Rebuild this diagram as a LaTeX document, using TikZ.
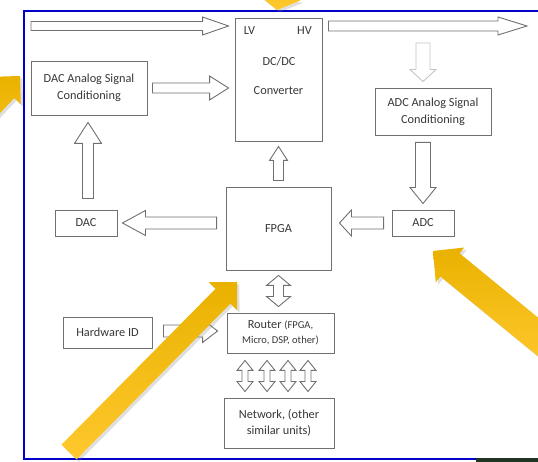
\documentclass[tikz,border=0pt]{standalone}
\usepackage{fontspec}
\setmainfont{Carlito}
\usetikzlibrary{calc}
\usetikzlibrary{shadows}
\usetikzlibrary{positioning}
\definecolor{frameblue}{RGB}{0,0,200}
\definecolor{boxgray}{RGB}{112,112,112}
\definecolor{textgray}{RGB}{55,55,55}
\definecolor{ghostgray}{RGB}{196,196,196}
\definecolor{ydark}{RGB}{233,178,0}
\definecolor{ylight}{RGB}{255,200,45}
\definecolor{stripgreen}{RGB}{32,52,38}
\newcommand{\smalltxt}{\fontsize{10.5}{15}\selectfont}

\begin{document}
\begin{tikzpicture}[x=1pt,y=1pt]

		\tikzset{box/.style={draw=boxgray,line width=0.9pt,text=textgray,align=center,inner sep=0pt,font=\fontsize{12.3}{17}\selectfont}}
		\tikzset{txt/.style={text=textgray,inner sep=0pt,font=\fontsize{12.3}{15}\selectfont}}
		\tikzset{frame/.style={draw=frameblue,line width=2.6pt}}
		\tikzset{hollow/.style={draw=boxgray,line width=0.9pt,fill=white,line join=miter}}
		\tikzset{ghost/.style={hollow,draw=ghostgray}}
		\tikzset{yarrow/.style={draw=none,top color=ydark,bottom color=ylight,drop shadow={opacity=0.25}}}

		% Block arrow: shaft width/head width/head length
		\tikzset{fat/.style args={#1/#2/#3}{to path={
						let \p1=(\tikztostart), \p2=(\tikztotarget),
						\n1={atan2(\y2-\y1,\x2-\x1)}, \n2={veclen(\x2-\x1,\y2-\y1)} in
						($(\p1)+(\n1+90:#1/2)$) -- ($(\p1)+(\n1:\n2-#3)+(\n1+90:#1/2)$)
						-- ($(\p1)+(\n1:\n2-#3)+(\n1+90:#2/2)$) -- (\p2)
						-- ($(\p1)+(\n1:\n2-#3)+(\n1-90:#2/2)$) -- ($(\p1)+(\n1:\n2-#3)+(\n1-90:#1/2)$)
						-- ($(\p1)+(\n1-90:#1/2)$) -- cycle}}}

		% Same, with a head at both ends
		\tikzset{dfat/.style args={#1/#2/#3}{to path={
						let \p1=(\tikztostart), \p2=(\tikztotarget),
						\n1={atan2(\y2-\y1,\x2-\x1)}, \n2={veclen(\x2-\x1,\y2-\y1)} in
						(\p1) -- ($(\p1)+(\n1:#3)+(\n1+90:#2/2)$) -- ($(\p1)+(\n1:#3)+(\n1+90:#1/2)$)
						-- ($(\p1)+(\n1:\n2-#3)+(\n1+90:#1/2)$) -- ($(\p1)+(\n1:\n2-#3)+(\n1+90:#2/2)$)
						-- (\p2)
						-- ($(\p1)+(\n1:\n2-#3)+(\n1-90:#2/2)$) -- ($(\p1)+(\n1:\n2-#3)+(\n1-90:#1/2)$)
						-- ($(\p1)+(\n1:#3)+(\n1-90:#1/2)$) -- ($(\p1)+(\n1:#3)+(\n1-90:#2/2)$) -- cycle}}}

		\useasboundingbox (0,0) rectangle (538,462);
		\clip (0,0) rectangle (538,462);

		\draw[frame] (540,451) -- (24,451) -- (24,3) -- (476,3);
		\fill[stripgreen] (476,0) rectangle (540,3.5);

		\node[box,minimum width=87,minimum height=123] (conv) at (278.5,382.5) {};
		\node[box,minimum width=116,minimum height=54] (dacc) at (89,374) {DAC Analog Signal\\Conditioning};
		\node[box,minimum width=116,minimum height=47] (adcc) at (433,350.5) {ADC Analog Signal\\Conditioning};
		\node[box,minimum width=62,minimum height=26] (dac) at (86,239) {DAC};
		\node[box,minimum width=105,minimum height=83] (fpga) at (278.5,233.5) {FPGA};
		\node[box,minimum width=62,minimum height=26] (adc) at (423,239) {ADC};
		\node[box,minimum width=89,minimum height=31] (hwid) at (107.5,129.5) {Hardware ID};
		\node[box,minimum width=107,minimum height=40] (router) at (280.5,129) {Router {\smalltxt(FPGA,}\\[-2pt]{\smalltxt Micro, DSP, other)}};
		\node[box,minimum width=110,minimum height=50] (net) at (279,39) {Network, (other\\[-1pt]similar units)};

		\node[txt] (lv) at ($(conv.north west)+(15,-13)$) {LV};
		\node[txt] (hv) at ($(conv.north east)+(-18,-13)$) {HV};
		\node[txt] (dcdc) at ($(conv.north)+(0.5,-44)$) {DC/DC};
		\node[txt] (cvt) at ($(conv.north)+(0,-73)$) {Converter};

		\coordinate (lvin) at (31,436);
		\coordinate (hvout) at (527,436);
		\coordinate (adin) at (423,419);

		\draw[hollow,fat=9/18/26] (lvin) to ($(conv.west|-lvin)+(-6,0)$);
		\draw[hollow,fat=10/18/29] ($(conv.east|-hvout)+(6,0)$) to (hvout);
		\draw[hollow,fat=10/24/19] ($(dacc.east)+(5,0)$) to ($(conv.west|-dacc.east)+(-6,0)$);
		\draw[hollow,fat=11/27/21] ($(dac.north)+(2,11)$) to ($(dacc.south)+(-1,-7)$);
		\draw[hollow,fat=12/25/23] ($(fpga.west|-dac.east)+(-9,0)$) to ($(dac.east)+(5,0)$);
		\draw[hollow,fat=10/18/14] ($(fpga.north)+(0,6)$) to ($(conv.south)+(0,-5)$);
		\draw[ghost,fat=14/26/12] (adin) to ($(adcc.north)+(-10,6)$);
		\draw[hollow,fat=15/26/16] ($(adcc.south)+(-10,-7)$) to ($(adc.north)+(0,6)$);
		\draw[hollow,fat=12/26/12] ($(adc.west)+(-8,0)$) to ($(fpga.east|-adc.west)+(8,0)$);
		\draw[hollow,fat=12/23/15] ($(hwid.east)+(11,1.5)$) to ($(router.west|-hwid.east)+(-9,1.5)$);
		\draw[hollow,dfat=10/24/10] ($(fpga.south)+(0,-5)$) to ($(router.north)+(-2,6)$);
		\foreach \dx in {-35.5,-13.5,7.5,27.5}
			\draw[hollow,dfat=6/16/10] ($(router.south)+(\dx,-7)$) to ($(router.south|-net.north)+(\dx,6)$);

		% callout arrows
		\coordinate (ytailA) at (69,10);
		\coordinate (ytipA) at (237,180);
		\coordinate (ytailB) at (560,107);
		\coordinate (ytipB) at (433,211);
		\coordinate (ytailC) at (-65,296);
		\coordinate (ytipC) at (20,386);
		\coordinate (ytailD) at (290,540);
		\coordinate (ytipD) at (277,452);

		\draw[yarrow,fat=21/40/20] (ytailA) to (ytipA);
		\draw[yarrow,fat=30/45/22] (ytailB) to (ytipB);
		\draw[yarrow,fat=22/40/20] (ytailC) to (ytipC);
		\draw[yarrow,fat=24/44/13] (ytailD) to (ytipD);

\end{tikzpicture}
\end{document}
